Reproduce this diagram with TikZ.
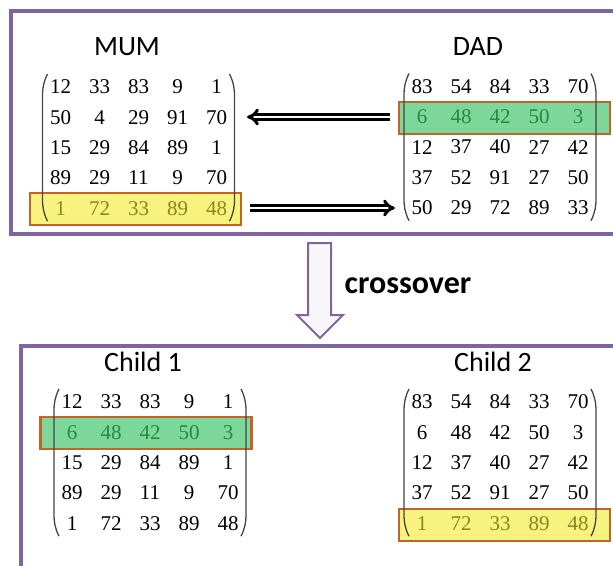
\documentclass[tikz,border=0pt]{standalone}
\usepackage{fontspec}
\setmainfont{Liberation Serif}
\newfontfamily\numfont{Liberation Serif}
\newfontfamily\labfont{Carlito}
\usetikzlibrary{arrows.meta}
\definecolor{frame}{HTML}{8064A2}
\definecolor{hlborder}{HTML}{C0652A}
\definecolor{greenfill}{HTML}{7DD69A}
\definecolor{yellowfill}{HTML}{F8F27E}
\definecolor{greentext}{HTML}{228B3C}
\definecolor{yellowtext}{HTML}{8A8620}
\definecolor{parencol}{HTML}{444444}
\tikzset{
  num/.style={inner sep=0pt, font=\numfont\fontsize{21}{21}\selectfont},
  lab/.style={inner sep=0pt, font=\labfont\fontsize{28}{28}\selectfont},
  parenline/.style={draw=parencol, line width=1.3pt},
  framebox/.style={draw=frame, line width=3.5pt},
  hlg/.style={draw=hlborder, line width=2.2pt, fill=greenfill, minimum width=211pt, minimum height=32pt, inner sep=0pt},
  hly/.style={draw=hlborder, line width=2.2pt, fill=yellowfill, minimum width=211pt, minimum height=32pt, inner sep=0pt},
  dblarrow/.style={double=white, double distance=2.2pt, line width=3pt, -{Implies[scale=1.25]}},
  blockarrow/.style={draw=frame, line width=2pt, fill=frame!6, line join=miter}
}
% #1 name, #2 x0, #3 y0, #4 rows, #5 highlighted row, #6 its text colour
\newcommand\drawmatrix[6]{%
  \foreach \row [count=\r] in {#4} {
    \ifnum\r=#5\relax\def\tcol{#6}\else\def\tcol{black}\fi
    \foreach \v [count=\c] in \row {
      \node[num, text=\tcol] (#1-\r-\c) at ({#2+(\c-1)*39},{#3+(\r-1)*30.3}) {\v};
    }
  }
  \pgfmathsetmacro\lx{#2-18}
  \pgfmathsetmacro\rx{#2+4*39+18}
  \pgfmathsetmacro\ty{#3-13}
  \pgfmathsetmacro\by{#3+4*30.3+13}
  \draw[parenline] (\lx+5,\ty) .. controls (\lx+1,\ty+8) and (\lx,\ty+14) .. (\lx,\ty+22)
     -- (\lx,\by-22) .. controls (\lx,\by-14) and (\lx+1,\by-8) .. (\lx+5,\by);
  \draw[parenline] (\rx-5,\ty) .. controls (\rx-1,\ty+8) and (\rx,\ty+14) .. (\rx,\ty+22)
     -- (\rx,\by-22) .. controls (\rx,\by-14) and (\rx-1,\by-8) .. (\rx-5,\by);
}
\begin{document}
\begin{tikzpicture}[x=1pt,y=-1pt]
\useasboundingbox (0,0) rectangle (613,565);
% frames
\draw[framebox] (625,11) -- (11,11) -- (11,234) -- (625,234);
\draw[framebox] (625,346) -- (21,346) -- (21,580);
% highlight rows
\node[hly] (mumhl) at (135.5,209) {};
\node[hlg] (dadhl) at (504.5,118) {};
\node[hlg] (c1hl) at (146,433) {};
\node[hly] (c2hl) at (504.5,525) {};
% labels
\node[lab] (mumlab) at (127,47) {MUM};
\node[lab] (dadlab) at (478,47) {DAD};
\node[lab] (c1lab) at (143,362) {Child 1};
\node[lab] (c2lab) at (493,362) {Child 2};
% matrices
\drawmatrix{mum}{60.5}{87}{{12,33,83,9,1},{50,4,29,91,70},{15,29,84,89,1},{89,29,11,9,70},{1,72,33,89,48}}{5}{yellowtext}
\drawmatrix{dad}{422}{86.5}{{83,54,84,33,70},{6,48,42,50,3},{12,37,40,27,42},{37,52,91,27,50},{50,29,72,89,33}}{2}{greentext}
\drawmatrix{ca}{72}{402}{{12,33,83,9,1},{6,48,42,50,3},{15,29,84,89,1},{89,29,11,9,70},{1,72,33,89,48}}{2}{greentext}
\drawmatrix{cb}{422}{402}{{83,54,84,33,70},{6,48,42,50,3},{12,37,40,27,42},{37,52,91,27,50},{1,72,33,89,48}}{5}{yellowtext}
% exchange arrows
\coordinate (a1s) at (390,117);
\coordinate (a1e) at (247,117);
\coordinate (a2s) at (250,208);
\coordinate (a2e) at (395,208);
\draw[dblarrow] (a1s) -- (a1e);
\draw[dblarrow] (a2s) -- (a2e);
% crossover block arrow
\draw[blockarrow] (308,243) -- (331,243) -- (331,315) -- (343,315) -- (320,338) -- (297,315) -- (308,315) -- cycle;
\node[inner sep=0pt, font=\labfont\bfseries\fontsize{32}{32}\selectfont] (xlab) at (408,286) {crossover};
\end{tikzpicture}
\end{document}
